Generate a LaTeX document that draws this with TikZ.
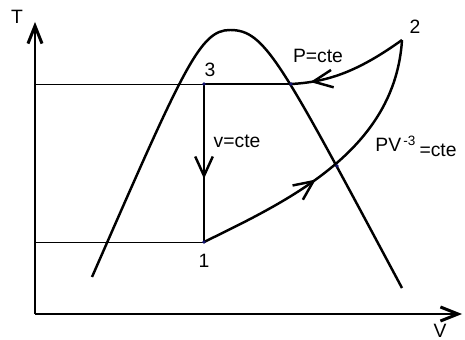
\documentclass[tikz,border=0pt]{standalone}
\usepackage{fontspec}
\setmainfont{Liberation Sans}
\usepackage{xcolor}
\usetikzlibrary{arrows.meta, decorations.markings}
\definecolor{tipblue}{RGB}{20,20,110}
\tikzset{midarrow/.style={postaction={decorate}, decoration={markings,
    mark=at position #1 with {\arrow{Straight Barb[length=11pt, width=10pt]}}}}}

\begin{document}
\begin{tikzpicture}[x=0.02cm, y=-0.02cm, >={Straight Barb[length=10pt, width=8pt]}]
    \tikzstyle{curve} = [line width=1.4pt]
    \tikzstyle{axis}  = [line width=1.7pt, ->]
    \tikzstyle{guide} = [line width=0.5pt]
    \tikzstyle{lbl}   = [font=\fontsize{11}{13}\selectfont, inner sep=0pt]

    \useasboundingbox (0,0) rectangle (465,340);

    % axes
    \coordinate (o)    at (35,314);
    \coordinate (ytip) at (35,22);
    \coordinate (xtip) at (462,314);
    \draw [axis] (o) -- (ytip);
    \draw [axis] (o) -- (xtip);
    \node (lT) [lbl] at (17,17)  {T};
    \node (lV) [lbl] at (440,331) {V};

    % saturation dome
    \coordinate (domeL) at (92,277);
    \coordinate (top)   at (230,30);
    \coordinate (domeR) at (402,288);
    \draw [curve] (domeL) .. controls (184,67) and (200,30) .. (top)
                          .. controls (265,30) and (280,60) .. (domeR);

    % cycle
    \coordinate (p1)  at (204,242);
    \coordinate (p2)  at (402,40);
    \coordinate (p3)  at (204,84);
    \coordinate (sat) at (291,84);
    \coordinate (crs) at (337,166);

    \draw [guide] (o |- p3) -- (p3);
    \draw [guide] (o |- p1) -- (p1);

    \draw [curve, midarrow=0.6]  (p3) -- (p1);
    \draw [curve, midarrow=0.43] (p1) .. controls (290,200) and (395,150) .. (p2);
    \draw [curve, midarrow=0.84] (p2) .. controls (360,70) and (330,82) .. (sat);
    \draw [curve] (sat) -- (p3);

    \foreach \p in {p1, p3, sat, crs}
        \fill [tipblue] (\p) circle (1.1pt);

    \node (l1)  [lbl] at (204,261) {1};
    \node (l2)  [lbl] at (415,27)  {2};
    \node (l3)  [lbl] at (210,70)  {3};
    \node (lP)  [lbl] at (318,56)  {P=cte};
    \node (lv)  [lbl] at (237,141) {v=cte};
    \node (lPV) [lbl, anchor=base west] at (375,152)
        {PV\textsuperscript{\,-3}\,\raisebox{-1mm}{=cte}};
\end{tikzpicture}
\end{document}
